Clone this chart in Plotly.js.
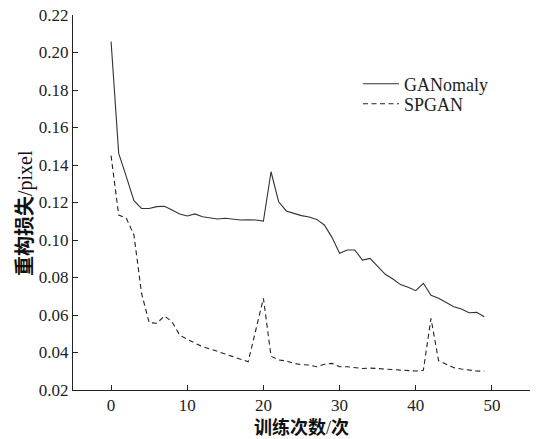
<!DOCTYPE html>
<html>
<head>
<meta charset="utf-8">
<script src="https://cdn.plot.ly/plotly-3.0.1.min.js"></script>
<style>html,body{margin:0;padding:0;background:#fff;}#chart{width:542px;height:439px;}</style>
</head>
<body>
<div id="chart"></div>
<script>
const epochs = Array.from({length: 50}, (_, i) => i);
const ganomaly = [0.2058,0.1462,0.1338,0.1210,0.1168,0.1168,0.1178,0.1180,0.1160,0.1139,
  0.1128,0.1139,0.1124,0.1116,0.1112,0.1116,0.1112,0.1107,0.1108,0.1107,
  0.1101,0.1364,0.1204,0.1155,0.1142,0.1130,0.1123,0.1110,0.1080,0.1014,
  0.0929,0.0947,0.0947,0.0893,0.0902,0.0858,0.0817,0.0792,0.0762,0.0748,
  0.0730,0.0769,0.0705,0.0689,0.0666,0.0644,0.0632,0.0612,0.0614,0.0591];
const spgan = [0.1450,0.1133,0.1116,0.1027,0.0716,0.0559,0.0556,0.0595,0.0564,0.0493,
  0.0470,0.0449,0.0431,0.0419,0.0404,0.0390,0.0378,0.0364,0.0351,0.0520,
  0.0689,0.0380,0.0360,0.0355,0.0342,0.0335,0.0333,0.0324,0.0337,0.0342,
  0.0324,0.0324,0.0320,0.0315,0.0317,0.0315,0.0312,0.0307,0.0305,0.0303,
  0.0301,0.0305,0.0582,0.0356,0.0339,0.0319,0.0312,0.0305,0.0301,0.0300];
const seriesNames = ['GANomaly', 'SPGAN'];
const xTicks = [0, 10, 20, 30, 40, 50];
const yTicks = [0.02, 0.04, 0.06, 0.08, 0.10, 0.12, 0.14, 0.16, 0.18, 0.20, 0.22];

const serif = 'Liberation Serif, Times New Roman, serif';
const cjk = 'Liberation Serif, Noto Sans CJK SC, serif';

const traces = [
  {x: epochs, y: ganomaly, name: seriesNames[0], mode: 'lines', type: 'scatter', legend: 'legend',
   line: {color: '#333333', width: 1.1}},
  {x: epochs, y: spgan, name: seriesNames[1], mode: 'lines', type: 'scatter', legend: 'legend2',
   line: {color: '#222222', width: 1.1, dash: '5px,3.5px'}}
];

const legendBase = {xanchor: 'left', yanchor: 'top', bgcolor: 'rgba(0,0,0,0)', itemwidth: 36,
  font: {family: serif, size: 18, color: '#222'}};

const layout = {
  width: 542, height: 439,
  margin: {l: 73, r: 12, t: 15, b: 49},
  paper_bgcolor: '#fff', plot_bgcolor: '#fff',
  font: {family: serif, size: 17, color: '#222'},
  showlegend: true,
  legend: Object.assign({x: 0.6236, y: 0.8653}, legendBase),
  legend2: Object.assign({x: 0.6236, y: 0.812}, legendBase),
  xaxis: {range: [-5, 55], tickvals: xTicks, ticktext: xTicks.map(String),
    ticks: 'inside', ticklen: 5, tickcolor: '#222', showline: true, linecolor: '#222', linewidth: 1,
    showgrid: false, zeroline: false, mirror: false,
    tickfont: {family: serif, size: 17, color: '#222'},
    title: {text: '<b>训练次数</b>/<b>次</b>', font: {family: cjk, size: 18, color: '#111'}, standoff: 6}},
  yaxis: {range: [0.02, 0.22], tickvals: yTicks, ticktext: yTicks.map(v => v.toFixed(2)),
    ticks: 'inside', ticklen: 5, tickcolor: '#222', showline: true, linecolor: '#222', linewidth: 1,
    showgrid: false, zeroline: false, mirror: false,
    tickfont: {family: serif, size: 17, color: '#222'}},
  annotations: [{
    text: '<b>重构损失</b>/pixel', xref: 'paper', yref: 'paper',
    x: -0.105, y: 0.472, xanchor: 'center', yanchor: 'middle', textangle: -90,
    showarrow: false, font: {family: cjk, size: 20, color: '#111'}
  }]
};

Plotly.newPlot('chart', traces, layout, {displayModeBar: false, staticPlot: true});
</script>
</body>
</html>
